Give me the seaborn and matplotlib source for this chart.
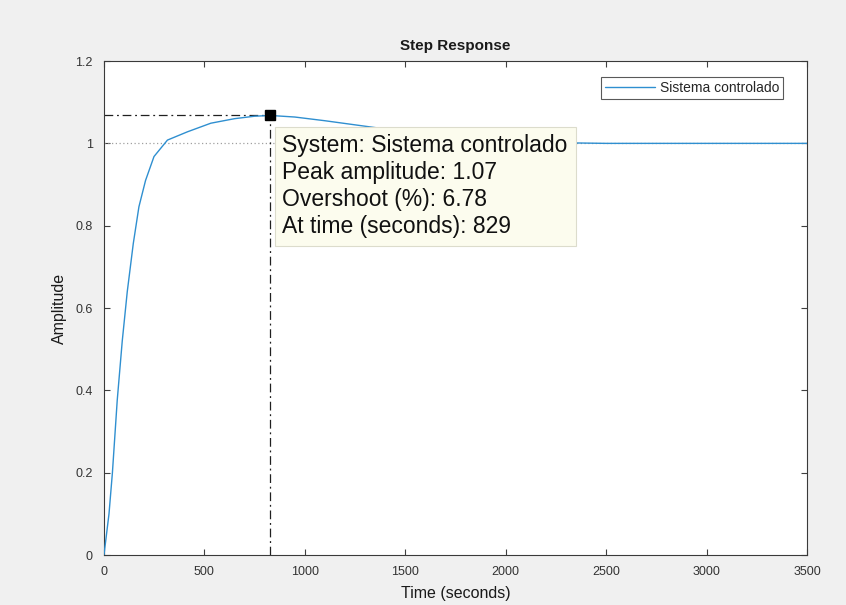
import matplotlib
matplotlib.use("Agg")
import matplotlib.pyplot as plt
import seaborn as sns
import pandas as pd

# Step response samples of the controlled system
time_s = [0, 25, 42, 66, 91, 116, 146, 174, 207, 249, 316, 415, 532, 650, 750,
          829, 950, 1100, 1250, 1400, 1600, 1800, 2000, 2200, 2500, 3000, 3500]
amplitude = [0, 0.10, 0.20, 0.376, 0.52, 0.64, 0.757, 0.846, 0.91, 0.968, 1.008,
             1.028, 1.049, 1.060, 1.066, 1.0678, 1.064, 1.055, 1.045, 1.035,
             1.022, 1.012, 1.006, 1.002, 1.0, 1.0, 1.0]
series_name = "Sistema controlado"

# Peak characteristics shown in the data tip
peak_time = 829
peak_amp = 1.0678
overshoot_pct = 6.78
steady_state = 1.0

x_ticks = [0, 500, 1000, 1500, 2000, 2500, 3000, 3500]
y_ticks = [0, 0.2, 0.4, 0.6, 0.8, 1.0, 1.2]
y_tick_labels = ["0", "0.2", "0.4", "0.6", "0.8", "1", "1.2"]

sns.set_style("ticks")
plt.rcParams["font.family"] = ["Liberation Sans", "DejaVu Sans"]

df = pd.DataFrame({"Time": time_s, "Amplitude": amplitude, "System": series_name})

fig = plt.figure(figsize=(8.46, 6.05), dpi=100, facecolor="#f0f0f0")
ax = fig.add_axes([0.1229, 0.0826, 0.8310, 0.8165])
ax.set_facecolor("white")

# steady-state reference line
ax.axhline(steady_state, color="#a0a0a0", lw=0.9, ls=(0, (1, 2)), zorder=1)

sns.lineplot(data=df, x="Time", y="Amplitude", hue="System",
             palette=["#2f8fd0"], lw=1.0, ax=ax, zorder=3)

# peak guide lines
dashdot = (0, (7, 3, 1.5, 3))
ax.plot([0, peak_time], [peak_amp, peak_amp], color="#202020", lw=0.9,
        ls=dashdot, zorder=2)
ax.plot([peak_time, peak_time], [0, peak_amp], color="#202020", lw=0.9,
        ls=dashdot, zorder=2)
ax.plot([peak_time], [peak_amp], marker="s", ms=7, color="black", zorder=5)

ax.set_xlim(0, 3500)
ax.set_ylim(0, 1.2)
ax.set_xticks(x_ticks)
ax.set_xticklabels([str(v) for v in x_ticks])
ax.set_yticks(y_ticks)
ax.set_yticklabels(y_tick_labels)
ax.tick_params(direction="in", top=True, right=True, length=4, width=0.8,
               labelsize=9, colors="#404040", labelcolor="#333333", pad=8)
for sp in ax.spines.values():
    sp.set_color("#3a3a3a")
    sp.set_linewidth(0.8)

ax.set_title("Step Response", fontsize=11, fontweight="bold", color="#1a1a1a", pad=8)
ax.set_xlabel("Time (seconds)", fontsize=11.5, color="#1a1a1a", labelpad=6)
ax.set_ylabel("Amplitude", fontsize=11.5, color="#1a1a1a", labelpad=6)

tip = (f"System: {series_name}\n"
       f"Peak amplitude: {peak_amp:.2f}\n"
       f"Overshoot (%): {overshoot_pct:.2f}\n"
       f"At time (seconds): {peak_time}")
ax.annotate(tip, xy=(peak_time, peak_amp), xytext=(12, -19),
            textcoords="offset pixels", ha="left", va="top",
            fontsize=16.5, color="#111111", linespacing=1.22, zorder=6,
            bbox=dict(boxstyle="square,pad=0.34", fc="#fcfcee", ec="#dcdccc", lw=0.8))

leg = ax.legend(loc="upper right", fontsize=10, frameon=True, fancybox=False,
                edgecolor="#303030", handlelength=3.6, handletextpad=0.3,
                borderpad=0.3, borderaxespad=0,
                bbox_to_anchor=(0.966, 0.968))
leg.get_frame().set_linewidth(0.8)

fig.savefig("out.png", dpi=100, facecolor=fig.get_facecolor())
